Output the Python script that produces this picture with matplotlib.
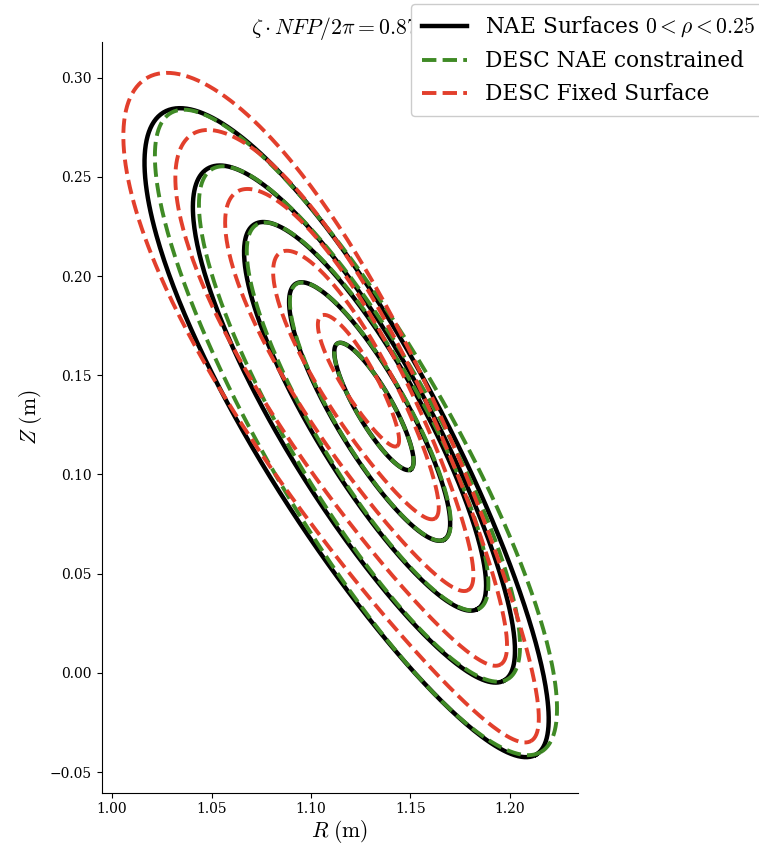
import numpy as np
import matplotlib.pyplot as plt

plt.rcParams['font.family'] = 'DejaVu Serif'
plt.rcParams['mathtext.fontset'] = 'cm'

# flux surfaces, outer to inner (rho = 0.25 ... 0.05)
# each surface: centre (R0, Z0), half-length a, half-width b, egg factor
nae_R0 = [1.1196, 1.1226, 1.1277, 1.1297, 1.1317]
nae_Z0 = [0.1207, 0.1252, 0.1292, 0.1317, 0.1343]
nae_a = [0.187, 0.149, 0.112, 0.0745, 0.0367]
nae_b = [0.0457, 0.0365, 0.0274, 0.0183, 0.0090]
nae_egg = [0.12, 0.09, 0.06, 0.04, 0.02]

desc_nae_R0 = [1.1226, 1.1246, 1.1287, 1.1300, 1.1317]
desc_nae_Z0 = [0.1212, 0.1254, 0.1292, 0.1317, 0.1343]
desc_nae_a = [0.186, 0.1485, 0.1118, 0.0744, 0.0367]
desc_nae_b = [0.0457, 0.0365, 0.0274, 0.0183, 0.0090]
desc_nae_egg = [0.0, 0.02, 0.03, 0.03, 0.02]

desc_fix_R0 = [1.1141, 1.1180, 1.1210, 1.1235, 1.1242]
desc_fix_Z0 = [0.1328, 0.1380, 0.1422, 0.1449, 0.1472]
desc_fix_a = [0.193, 0.1545, 0.116, 0.0775, 0.038]
desc_fix_b = [0.045, 0.0355, 0.0262, 0.0174, 0.0086]
desc_fix_egg = [0.3, 0.27, 0.23, 0.18, 0.13]

tilt = np.deg2rad(-60.0)
theta = np.linspace(0, 2 * np.pi, 400)


def surface(R0, Z0, a, b, egg):
    """Cross section of one flux surface in the (R, Z) plane."""
    u = a * np.cos(theta)
    v = b * np.sin(theta) * (1 - egg * np.cos(theta))
    R = R0 + u * np.cos(tilt) - v * np.sin(tilt)
    Z = Z0 + u * np.sin(tilt) + v * np.cos(tilt)
    return R, Z


fig = plt.figure(figsize=(7.59, 8.44), dpi=100)
ax = fig.add_axes([0.134, 0.0608, 0.6275, 0.8894])

for i in range(len(nae_R0)):
    R, Z = surface(nae_R0[i], nae_Z0[i], nae_a[i], nae_b[i], nae_egg[i])
    ax.plot(R, Z, color='black', lw=3.2,
            label=r'NAE Surfaces $0<\rho<0.25$' if i == 0 else None)
for i in range(len(desc_nae_R0)):
    R, Z = surface(desc_nae_R0[i], desc_nae_Z0[i], desc_nae_a[i],
                   desc_nae_b[i], desc_nae_egg[i])
    ax.plot(R, Z, '--', color='#3f8a25', lw=2.8,
            label='DESC NAE constrained' if i == 0 else None)
for i in range(len(desc_fix_R0)):
    R, Z = surface(desc_fix_R0[i], desc_fix_Z0[i], desc_fix_a[i],
                   desc_fix_b[i], desc_fix_egg[i])
    ax.plot(R, Z, '--', color='#e23f2c', lw=2.8,
            label='DESC Fixed Surface' if i == 0 else None)

ax.set_xlim(0.9948, 1.2342)
ax.set_ylim(-0.0604, 0.318)
ax.set_xticks([1.00, 1.05, 1.10, 1.15, 1.20])
ax.set_yticks([-0.05, 0.00, 0.05, 0.10, 0.15, 0.20, 0.25, 0.30])
ax.spines['top'].set_visible(False)
ax.spines['right'].set_visible(False)
ax.set_xlabel(r'$R ~(\mathrm{m})$', fontsize=15.5, labelpad=1)
ax.set_ylabel(r'$Z ~(\mathrm{m})$', fontsize=15.5)
ax.set_title(r'$\zeta \cdot NFP/2\pi = 0.875$', fontsize=15.7)

fig.legend(loc='upper left', bbox_to_anchor=(411 / 759, 1 - 4 / 844),
           borderaxespad=0, fontsize=15.6, labelspacing=0.5,
           borderpad=0.5, handlelength=2.1, framealpha=1)

fig.savefig('out.png', dpi=100)
